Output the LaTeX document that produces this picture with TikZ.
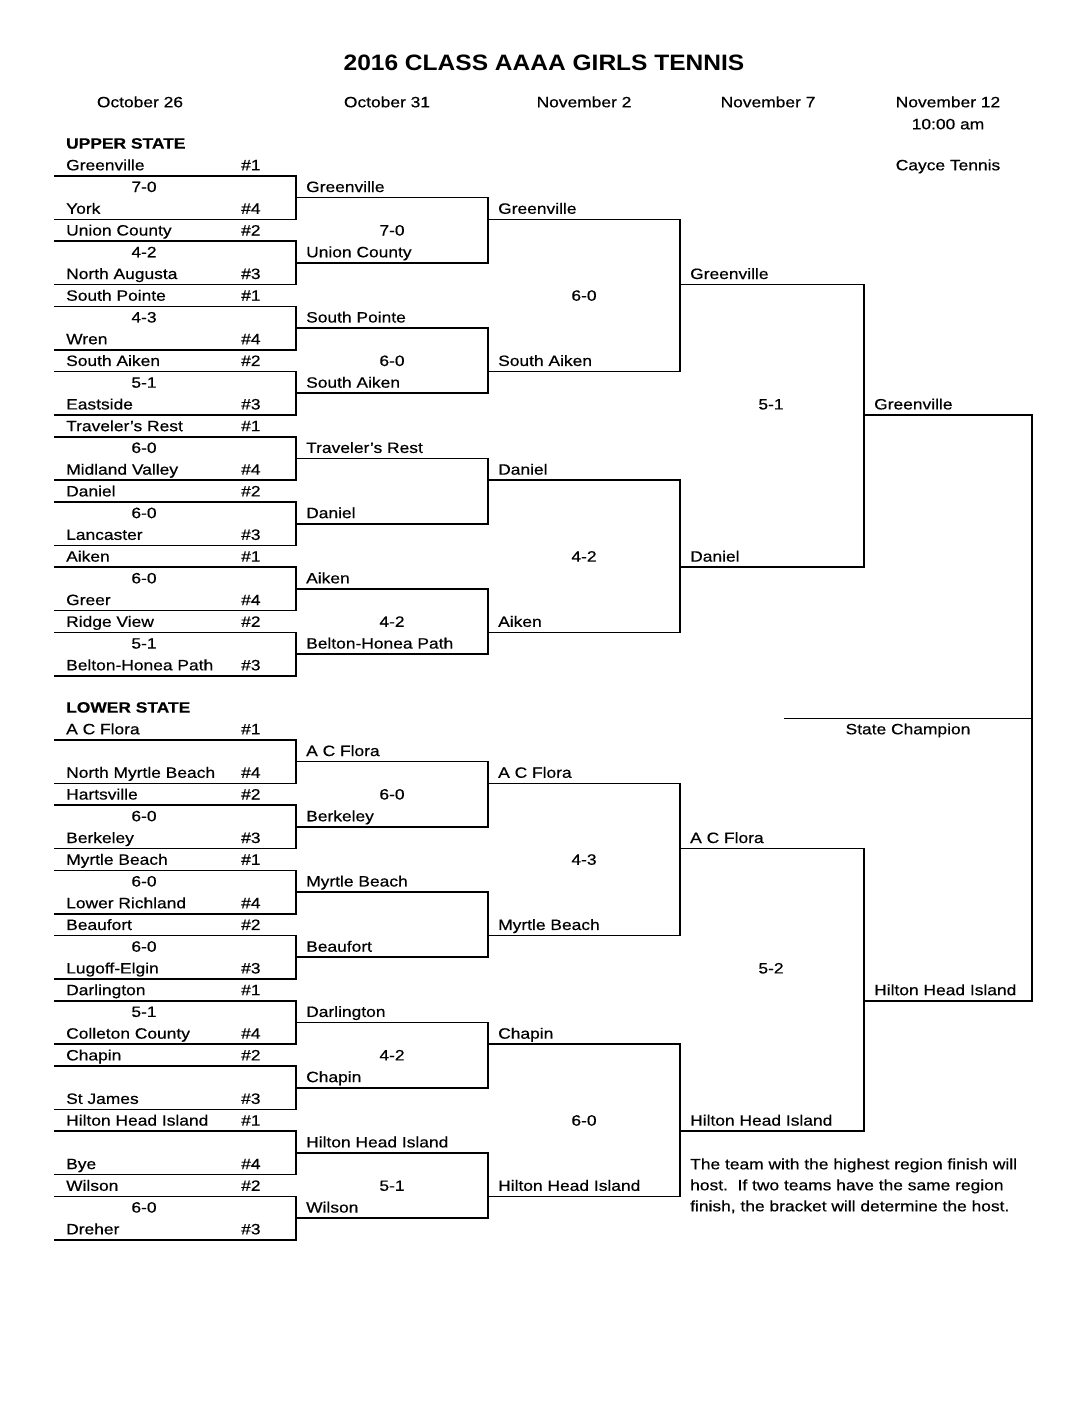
\documentclass[tikz,border=0pt]{standalone}
\usepackage{fontspec}
\setmainfont{Liberation Sans}[FakeStretch=1.16,FakeBold=0.5]
\newfontfamily\titlefont{Liberation Sans}[FakeStretch=1.1]
\def\pitch{21.74}
\newcommand\RoundOne[3]{%
 \foreach \k/\tA/\sA/\scr/\tB/\sB in {#3}{%
  \pgfmathsetmacro\ya{#2+\pitch*3*\k}%
  \pgfmathsetmacro\yb{\ya+2*\pitch}%
  \pgfmathsetmacro\ys{\ya+\pitch}%
  \node[team] (#1-r1-\k-a) at (66,\ya+5.3) {\tA};
  \node[team] (#1-r1-\k-as) at (241,\ya+5.3) {\#\sA};
  \node[score] (#1-r1-\k-s) at (144,\ys+5.3) {\scr};
  \node[team] (#1-r1-\k-b) at (66,\yb+5.3) {\tB};
  \node[team] (#1-r1-\k-bs) at (241,\yb+5.3) {\#\sB};
  \coordinate (#1-r1-\k-al) at (55,\ya+\pitch/2);
  \coordinate (#1-r1-\k-ar) at (296,\ya+\pitch/2);
  \coordinate (#1-r1-\k-br) at (296,\yb+\pitch/2);
  \coordinate (#1-r1-\k-bl) at (55,\yb+\pitch/2);
  \draw[bracket] (#1-r1-\k-al) -- (#1-r1-\k-ar) -- (#1-r1-\k-br) -- (#1-r1-\k-bl);
 }}
\newcommand\RoundLater[6]{%
 \foreach \j/\ra/\rb/\rs/\wA/\scr/\wB in {#6}{%
  \pgfmathsetmacro\ya{#2+\pitch*\ra}%
  \pgfmathsetmacro\yb{#2+\pitch*\rb}%
  \pgfmathsetmacro\ys{#2+\pitch*\rs}%
  \node[team] (#1-\j-a) at (#3+10,\ya+5.3) {\wA};
  \node[team] (#1-\j-b) at (#3+10,\yb+5.3) {\wB};
  \node[score] (#1-\j-s) at (#5,\ys+5.3) {\scr};
  \coordinate (#1-\j-al) at (#3,\ya+\pitch/2);
  \coordinate (#1-\j-ar) at (#4,\ya+\pitch/2);
  \coordinate (#1-\j-br) at (#4,\yb+\pitch/2);
  \coordinate (#1-\j-bl) at (#3,\yb+\pitch/2);
  \draw[bracket] (#1-\j-al) -- (#1-\j-ar) -- (#1-\j-br) -- (#1-\j-bl);
 }}
\begin{document}
\begin{tikzpicture}[x=1pt,y=-1pt,
  team/.style={anchor=base west,inner sep=0pt,font=\fontsize{15}{17}\selectfont},
  score/.style={anchor=base,inner sep=0pt,font=\fontsize{15}{17}\selectfont},
  head/.style={anchor=base,inner sep=0pt,font=\fontsize{15}{17}\selectfont},
  section/.style={anchor=base west,inner sep=0pt,font=\fontsize{15}{17}\selectfont\bfseries},
  bracket/.style={line width=1.6pt,line join=miter,line cap=rect}]
\useasboundingbox (0,0) rectangle (1088,1408);
\fill[white] (0,0) rectangle (1088,1408);
% title and headers
\node[anchor=base,inner sep=0pt,font=\titlefont\bfseries\fontsize{22.3}{26}\selectfont] (title) at (544,70) {2016 CLASS AAAA GIRLS TENNIS};
\node[head] (d1) at (140,107.3) {October 26};
\node[head] (d2) at (387,107.3) {October 31};
\node[head] (d3) at (584,107.3) {November 2};
\node[head] (d4) at (768,107.3) {November 7};
\node[head] (d5) at (948,107.3) {November 12};
\node[head] (d5t) at (948,129.3) {10:00 am};
\node[head] (site) at (948,170.3) {Cayce Tennis};
\node[section] (upper) at (66,148.6) {UPPER STATE};
\node[section] (lower) at (66,712.6) {LOWER STATE};
% upper state
\RoundOne{u}{165}{0/Greenville/1/7-0/York/4,
 1/Union County/2/4-2/North Augusta/3,
 2/South Pointe/1/4-3/Wren/4,
 3/South Aiken/2/5-1/Eastside/3,
 4/Traveler’s Rest/1/6-0/Midland Valley/4,
 5/Daniel/2/6-0/Lancaster/3,
 6/Aiken/1/6-0/Greer/4,
 7/Ridge View/2/5-1/Belton-Honea Path/3}
\RoundLater{u-r2}{165}{296}{488}{392}{0/1/4/3/Greenville/7-0/Union County,
 1/7/10/9/South Pointe/6-0/South Aiken,
 2/13/16/15/Traveler’s Rest//Daniel,
 3/19/22/21/Aiken/4-2/Belton-Honea Path}
\RoundLater{u-r3}{165}{488}{680}{584}{0/2/9/6/Greenville/6-0/South Aiken,
 1/14/21/18/Daniel/4-2/Aiken}
\RoundLater{u-r4}{165}{680}{864}{771}{0/5/18/11/Greenville/5-1/Daniel}
% lower state
\RoundOne{l}{729}{0/A C Flora/1//North Myrtle Beach/4,
 1/Hartsville/2/6-0/Berkeley/3,
 2/Myrtle Beach/1/6-0/Lower Richland/4,
 3/Beaufort/2/6-0/Lugoff-Elgin/3,
 4/Darlington/1/5-1/Colleton County/4,
 5/Chapin/2//St James/3,
 6/Hilton Head Island/1//Bye/4,
 7/Wilson/2/6-0/Dreher/3}
\RoundLater{l-r2}{729}{296}{488}{392}{0/1/4/3/A C Flora/6-0/Berkeley,
 1/7/10/9/Myrtle Beach//Beaufort,
 2/13/16/15/Darlington/4-2/Chapin,
 3/19/22/21/Hilton Head Island/5-1/Wilson}
\RoundLater{l-r3}{729}{488}{680}{584}{0/2/9/6/A C Flora/4-3/Myrtle Beach,
 1/14/21/18/Chapin/6-0/Hilton Head Island}
\RoundLater{l-r4}{729}{680}{864}{771}{0/5/18/11/A C Flora/5-2/Hilton Head Island}
% final
\pgfmathsetmacro\yu{165+\pitch*11}
\pgfmathsetmacro\yl{729+\pitch*12}
\node[team] (fin-u) at (874,\yu+5.3) {Greenville};
\node[team] (fin-l) at (874,\yl+5.3) {Hilton Head Island};
\coordinate (fin-ul) at (864,\yu+\pitch/2);
\coordinate (fin-ur) at (1032,\yu+\pitch/2);
\coordinate (fin-lr) at (1032,\yl+\pitch/2);
\coordinate (fin-ll) at (864,\yl+\pitch/2);
\draw[bracket] (fin-ul) -- (fin-ur) -- (fin-lr) -- (fin-ll);
\coordinate (champ-l) at (784,718);
\coordinate (champ-r) at (1032,718);
\draw[line width=1pt] (champ-l) -- (champ-r);
\node[head] (champ) at (908,734.3) {State Champion};
% note
\node[team] (note1) at (690,1169.3) {The team with the highest region finish will};
\node[team] (note2) at (690,1190.3) {host.\ \ If two teams have the same region};
\node[team] (note3) at (690,1211.3) {finish, the bracket will determine the host.};
\end{tikzpicture}
\end{document}
